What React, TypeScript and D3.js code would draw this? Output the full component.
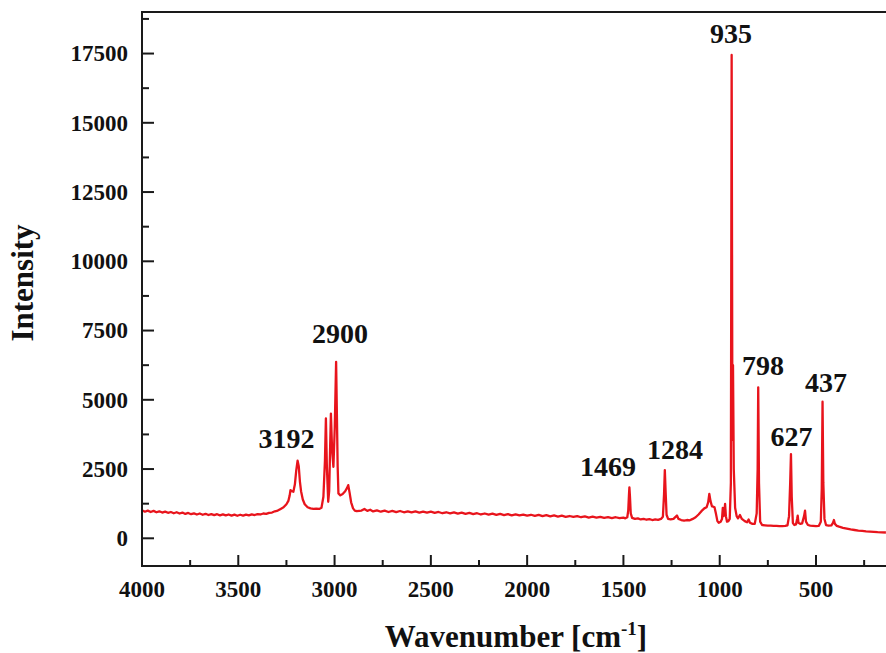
import React from 'react';
import * as d3 from 'd3';

// Raman spectrum: [wavenumber cm-1, intensity]
const highRegion: [number, number][] = [
  [4000, 1010], [3985, 960], [3970, 1000], [3955, 950], [3940, 990], [3925, 940], [3910, 975],
  [3895, 930], [3880, 965], [3865, 920], [3850, 950], [3835, 905], [3820, 940], [3805, 895],
  [3790, 930], [3775, 880], [3760, 915], [3745, 870], [3730, 900], [3715, 860], [3700, 895],
  [3685, 850], [3670, 885], [3655, 840], [3640, 875], [3625, 835], [3610, 870], [3595, 830],
  [3580, 865], [3565, 825], [3550, 860], [3535, 820], [3520, 855], [3505, 815], [3490, 850],
  [3475, 820], [3460, 855], [3445, 830], [3430, 865], [3415, 840], [3400, 875], [3385, 860],
  [3370, 895], [3355, 880], [3340, 920], [3325, 930], [3310, 975], [3295, 1000], [3280, 1060],
  [3265, 1120], [3250, 1230], [3240, 1350], [3233, 1550], [3229, 1740], [3222, 1700], [3214, 1680],
  [3206, 1950], [3199, 2450], [3192, 2800], [3186, 2600], [3180, 2050], [3174, 1700], [3165, 1400],
  [3155, 1230], [3140, 1120], [3125, 1080], [3110, 1060], [3095, 1070], [3080, 1060], [3068, 1100],
  [3058, 1500], [3050, 2800], [3045, 4330], [3040, 2600], [3033, 1320], [3028, 1700], [3023, 3300],
  [3019, 4500], [3013, 3200], [3006, 2580], [2999, 4000], [2992, 6370], [2988, 4500], [2984, 2600],
  [2980, 1620], [2970, 1550], [2958, 1600], [2945, 1700], [2935, 1820], [2929, 1920], [2922, 1650],
  [2914, 1300], [2904, 1080], [2895, 1000], [2885, 980],
];

const midRegion: [number, number][] = [
  [2860, 1000], [2845, 1060], [2830, 990], [2815, 1030], [2800, 970], [2780, 1010], [2760, 960],
  [2740, 1000], [2720, 950], [2700, 990], [2680, 945], [2660, 985], [2640, 940], [2620, 975],
  [2600, 935], [2580, 970], [2560, 930], [2540, 965], [2520, 925], [2500, 960], [2480, 915],
  [2460, 950], [2440, 905], [2420, 940], [2400, 900], [2380, 935], [2360, 890], [2340, 925],
  [2320, 880], [2300, 915], [2280, 870], [2260, 905], [2240, 860], [2220, 895], [2200, 855],
  [2180, 890], [2160, 845], [2140, 880], [2120, 840], [2100, 870], [2080, 830], [2060, 865],
  [2040, 825], [2020, 855], [2000, 820], [1980, 850], [1960, 810], [1940, 845], [1920, 800],
  [1900, 835], [1880, 795], [1860, 825], [1840, 785], [1820, 815], [1800, 775], [1780, 805],
  [1760, 770], [1740, 800], [1720, 760], [1700, 790], [1680, 750], [1660, 780], [1640, 745],
  [1620, 775], [1600, 740], [1580, 765], [1560, 730], [1540, 760], [1520, 725], [1500, 745],
];

const fingerprint: [number, number][] = [
  [1490, 720], [1480, 760], [1475, 1000], [1471, 1600], [1469, 1840], [1466, 1500], [1462, 900],
  [1455, 740], [1440, 700], [1425, 720], [1410, 680], [1395, 700], [1380, 670], [1365, 690],
  [1350, 660], [1335, 680], [1320, 665], [1305, 700], [1295, 780], [1289, 1600], [1285, 2460],
  [1281, 1700], [1276, 850], [1268, 700], [1255, 680], [1240, 700], [1228, 780], [1222, 820],
  [1214, 700], [1200, 660], [1185, 640], [1170, 660], [1155, 650], [1140, 700], [1125, 760],
  [1110, 860], [1095, 980], [1080, 1080], [1068, 1120], [1060, 1300], [1054, 1600], [1048, 1350],
  [1040, 1150], [1033, 1140], [1027, 1120], [1020, 900], [1012, 620], [1005, 560], [995, 600],
  [988, 700], [984, 1100], [980, 800], [975, 1000], [972, 1240], [968, 800], [962, 600],
  [955, 620], [948, 700], [942, 2000], [938, 17450], [934, 3550], [931, 6250], [927, 2500],
  [920, 1100], [912, 800], [905, 720], [895, 840], [885, 700], [870, 620], [858, 580],
  [850, 680], [843, 560], [830, 520], [818, 520], [808, 900], [803, 2500], [800, 5450],
  [796, 2000], [790, 600], [780, 480], [765, 470], [750, 460], [735, 455], [720, 450],
  [705, 445], [690, 440], [675, 440], [660, 445], [648, 470], [640, 800], [634, 2000],
  [630, 3040], [626, 1500], [620, 550], [612, 480], [604, 500], [598, 700], [595, 815],
  [591, 560], [582, 520], [572, 540], [562, 800], [557, 1000], [552, 600], [542, 480],
  [530, 460], [515, 450], [500, 440], [485, 450], [475, 600], [470, 1800], [466, 4930],
  [462, 2000], [456, 700], [448, 480], [435, 460], [420, 470], [412, 560], [407, 660],
  [402, 520], [392, 450], [380, 420], [360, 380], [340, 350], [320, 320], [300, 300],
  [280, 280], [260, 265], [240, 250], [220, 240], [200, 230], [180, 220], [160, 215], [137, 210],
];

// peak annotations: text, label centre (wavenumber), label baseline (intensity)
const peakLabels = ['3192', '2900', '1469', '1284', '935', '798', '627', '437'];
const peakLabelX = [3250, 2972, 1580, 1232, 941, 775, 627, 448];
const peakLabelY = [3249, 7061, 2260, 2852, 17880, 5895, 3343, 5292];

const xTicks = [4000, 3500, 3000, 2500, 2000, 1500, 1000, 500];
const xMinor = [3750, 3250, 2750, 2250, 1750, 1250, 750, 250];
const yTicks = [0, 2500, 5000, 7500, 10000, 12500, 15000, 17500];
const yMinor = [1250, 3750, 6250, 8750, 11250, 13750, 16250, 18750];

const W = 886;
const H = 653;
const font = '"Liberation Serif", "Times New Roman", serif';

export default function App() {
  const left = 142;
  const top = 12;
  const bottom = 566;

  const x = d3.scaleLinear().domain([4000, 0]).range([left, left + 4000 * 0.19257]);
  const y = d3.scaleLinear().domain([-1000, 19000]).range([bottom, top]);

  const spectrum = [...highRegion, ...midRegion, ...fingerprint];
  const line = d3.line<[number, number]>()
    .x(d => x(d[0]))
    .y(d => y(d[1]));

  const axisColor = '#1a1a1a';

  return (
    <div style={{ position: 'absolute', left: 0, top: 0 }}>
      <svg width={W} height={H} style={{ display: 'block', background: '#fff' }}>
        <defs>
          <clipPath id="plot-clip">
            <rect x={left} y={top} width={W - left} height={bottom - top} />
          </clipPath>
        </defs>

        <path
          d={line(spectrum) || ''}
          fill="none"
          stroke="#e8141c"
          strokeWidth={2.3}
          strokeLinejoin="round"
          clipPath="url(#plot-clip)"
        />

        {/* frame */}
        <line x1={left} x2={W} y1={top} y2={top} stroke={axisColor} strokeWidth={2} />
        <line x1={left} x2={W} y1={bottom} y2={bottom} stroke={axisColor} strokeWidth={2} />
        <line x1={left} x2={left} y1={top - 1} y2={bottom + 1} stroke={axisColor} strokeWidth={2} />

        {/* x ticks */}
        {xTicks.map(t => (
          <g key={'xt' + t}>
            <line x1={x(t)} x2={x(t)} y1={bottom} y2={bottom - 11} stroke={axisColor} strokeWidth={2} />
            <text x={x(t)} y={597} textAnchor="middle" fontFamily={font} fontWeight="bold" fontSize={23} fill="#111">
              {t}
            </text>
          </g>
        ))}
        {xMinor.map(t => (
          <line key={'xm' + t} x1={x(t)} x2={x(t)} y1={bottom} y2={bottom - 6} stroke={axisColor} strokeWidth={2} />
        ))}

        {/* y ticks */}
        {yTicks.map(t => (
          <g key={'yt' + t}>
            <line x1={left} x2={left + 12} y1={y(t)} y2={y(t)} stroke={axisColor} strokeWidth={2} />
            <text x={128} y={y(t)} dy="0.34em" textAnchor="end" fontFamily={font} fontWeight="bold" fontSize={23} fill="#111">
              {t}
            </text>
          </g>
        ))}
        {yMinor.map(t => (
          <line key={'ym' + t} x1={left} x2={left + 7} y1={y(t)} y2={y(t)} stroke={axisColor} strokeWidth={2} />
        ))}

        {/* peak labels */}
        {peakLabels.map((lab, i) => (
          <text
            key={lab}
            x={x(peakLabelX[i])}
            y={y(peakLabelY[i])}
            textAnchor="middle"
            fontFamily={font}
            fontWeight="bold"
            fontSize={28}
            fill="#111"
          >
            {lab}
          </text>
        ))}

        {/* axis titles */}
        <text x={516} y={647} textAnchor="middle" fontFamily={font} fontWeight="bold" fontSize={31} fill="#111">
          Wavenumber [cm<tspan fontSize={19} dy={-12}>-1</tspan><tspan dy={12}>]</tspan>
        </text>
        <text
          transform="translate(33,283) rotate(-90)"
          textAnchor="middle"
          fontFamily={font}
          fontWeight="bold"
          fontSize={31}
          fill="#111"
        >
          Intensity
        </text>
      </svg>
    </div>
  );
}
